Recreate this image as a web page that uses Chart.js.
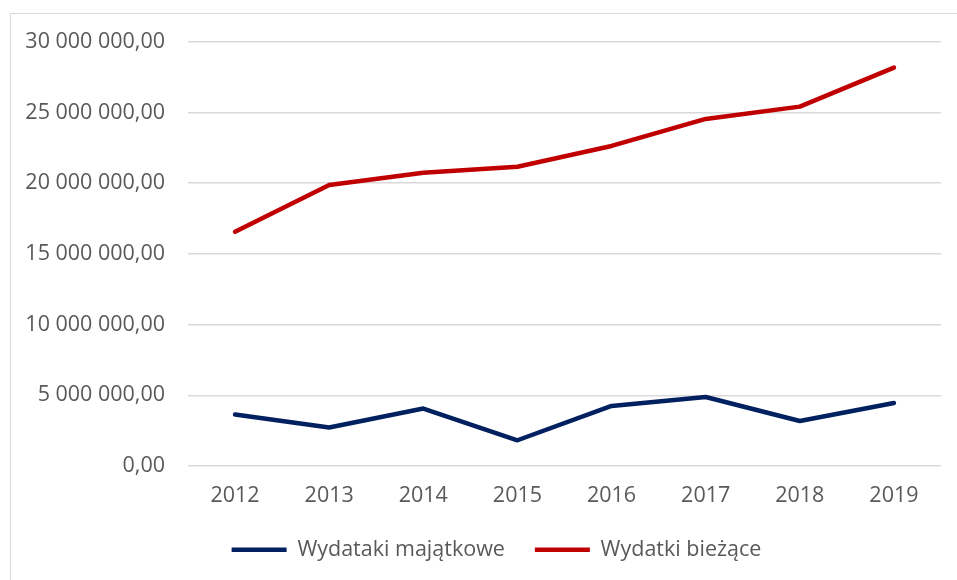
<!DOCTYPE html>
<html>
<head>
<meta charset="utf-8">
<script src="https://cdn.jsdelivr.net/npm/chart.js@4/dist/chart.umd.min.js"></script>
<style>
  html, body { margin: 0; padding: 0; background: #fff; overflow: hidden; }
  #frame { position: absolute; left: 10px; top: 13px; width: 1000px; height: 700px;
           border-left: 1px solid #d9d9d9; border-top: 1px solid #d9d9d9; }
  #wrap { position: absolute; left: 0; top: 0; width: 957px; height: 580px; }
</style>
</head>
<body>
<div id="frame"></div>
<div id="wrap"><canvas id="lineChart"></canvas></div>
<script>
// data
const years = ['2012', '2013', '2014', '2015', '2016', '2017', '2018', '2019'];
const majatkowe = [3640000, 2720000, 4060000, 1820000, 4250000, 4880000, 3180000, 4460000];
const biezace = [16560000, 19870000, 20740000, 21160000, 22630000, 24540000, 25410000, 28170000];
const yTicks = [0, 5000000, 10000000, 15000000, 20000000, 25000000, 30000000];

// "30 000 000,00" style labels
function plNumber(v) {
    const s = Math.round(v).toString().replace(/\B(?=(\d{3})+(?!\d))/g, ' ');
    return s + ',00';
}

const txt = '#595959';
const fontFam = "'Open Sans', 'Noto Sans', sans-serif";
const fSize = 21.5;

// nudge the legend a bit to the right, like the original
const legendShift = {
    id: 'legendShift',
    afterLayout(chart) {
        chart.legend.left += 26;
        chart.legend.right += 26;
    }
};

const ctx = document.getElementById('lineChart').getContext('2d');
const chart = new Chart(ctx, {
    type: 'line',
    data: {
        labels: years,
        datasets: [{
            label: 'Wydataki majątkowe',
            data: majatkowe,
            borderColor: '#002060',
            backgroundColor: '#002060',
            borderWidth: 4.5,
            borderCapStyle: 'round',
            borderJoinStyle: 'round',
            pointRadius: 0,
            tension: 0
        }, {
            label: 'Wydatki bieżące',
            data: biezace,
            borderColor: '#c00000',
            backgroundColor: '#c00000',
            borderWidth: 4.5,
            borderCapStyle: 'round',
            borderJoinStyle: 'round',
            pointRadius: 0,
            tension: 0
        }]
    },
    plugins: [legendShift],
    options: {
        responsive: true,
        maintainAspectRatio: false,
        animation: false,
        devicePixelRatio: 1,
        layout: { padding: { left: 0, right: 16, top: 41.7, bottom: 9.5 } },
        scales: {
            x: {
                offset: true,
                grid: { display: false, drawTicks: false },
                border: { display: false },
                afterFit: function (scale) { scale.height = 43; },
                ticks: { color: txt, padding: 17, maxRotation: 0, font: { family: fontFam, size: fSize } }
            },
            y: {
                min: 0,
                max: 30000000,
                afterBuildTicks: function (scale) {
                    scale.ticks = yTicks.map(v => ({ value: v }));
                },
                afterFit: function (scale) { scale.width = 188; },
                grid: { color: '#d9d9d9', lineWidth: 1.5, drawTicks: false },
                border: { display: false },
                ticks: {
                    color: txt,
                    padding: 23,
                    font: { family: fontFam, size: fSize },
                    callback: v => plNumber(v)
                }
            }
        },
        plugins: {
            tooltip: { enabled: false },
            legend: {
                position: 'bottom',
                labels: {
                    color: txt,
                    font: { family: fontFam, size: fSize },
                    usePointStyle: true,
                    pointStyle: 'line',
                    pointStyleWidth: 55,
                    boxHeight: fSize,
                    padding: 30
                }
            }
        }
    }
});
</script>
</body>
</html>
